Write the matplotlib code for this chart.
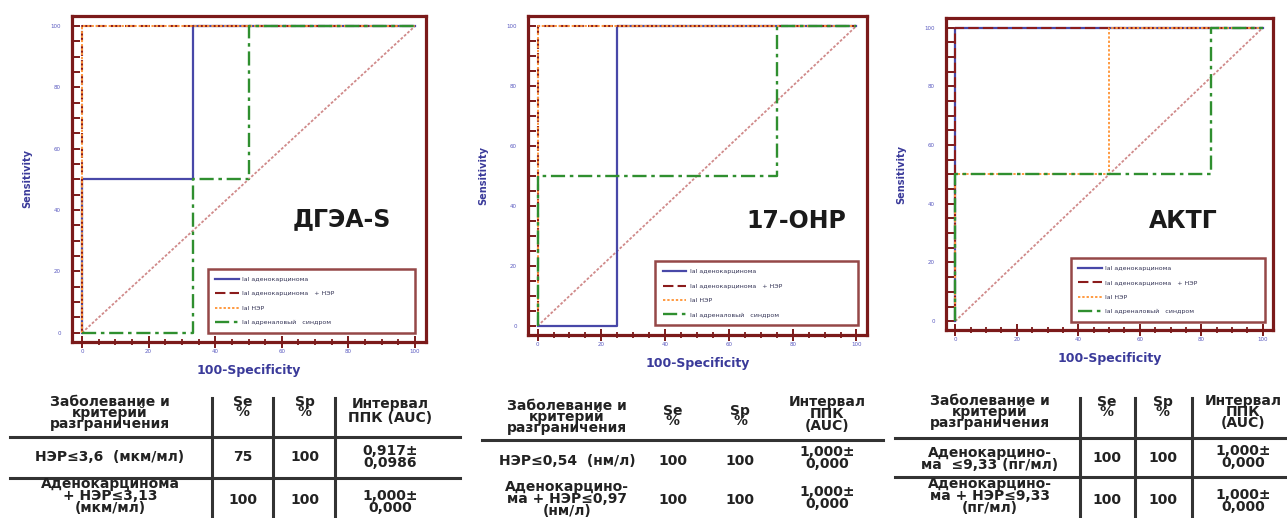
import matplotlib
matplotlib.use('Agg')
import matplotlib.pyplot as plt
from matplotlib.lines import Line2D
from matplotlib.ticker import MultipleLocator

# ---------------- data ----------------
axis_ticks = [0, 20, 40, 60, 80, 100]
diag_x = [0, 100]
diag_y = [0, 100]
legend_labels = ['lal аденокарцинома', 'lal аденокарцинома   + НЭР',
                 'lal НЭР', 'lal адреналовый   синдром']
panel_titles = ['ДГЭА-S', '17-OHP', 'АКТГ']
x_label = '100-Specificity'
y_label = 'Sensitivity'

# ДГЭА-S
dhea_blue_x = [0, 0, 33.3, 33.3, 100]
dhea_blue_y = [0, 50, 50, 100, 100]
dhea_red_x = [0, 0, 100]
dhea_red_y = [0, 100, 100]
dhea_orange_x = [0, 0, 100]
dhea_orange_y = [0, 100, 100]
dhea_green_x = [0, 33.3, 33.3, 50, 50, 100]
dhea_green_y = [0, 0, 50, 50, 100, 100]

# 17-OHP
ohp_blue_x = [0, 25, 25, 100]
ohp_blue_y = [0, 0, 100, 100]
ohp_red_x = [0, 0, 100]
ohp_red_y = [0, 100, 100]
ohp_orange_x = [0, 0, 100]
ohp_orange_y = [0, 100, 100]
ohp_green_x = [0, 0, 75, 75, 100]
ohp_green_y = [0, 50, 50, 100, 100]

# АКТГ
acth_blue_x = [0, 0, 100]
acth_blue_y = [0, 100, 100]
acth_red_x = [0, 0, 100]
acth_red_y = [0, 100, 100]
acth_orange_x = [0, 0, 50, 50, 100]
acth_orange_y = [0, 50, 50, 100, 100]
acth_green_x = [0, 0, 83.3, 83.3, 100]
acth_green_y = [0, 50, 50, 100, 100]

# tables
t1_header = ['Заболевание и\nкритерий\nразграничения', 'Se\n%', 'Sp\n%', 'Интервал\nППК (AUC)']
t1_row1 = ['НЭР≤3,6  (мкм/мл)', '75', '100', '0,917±\n0,0986']
t1_row2 = ['Аденокарцинома\n+ НЭР≤3,13\n(мкм/мл)', '100', '100', '1,000±\n0,000']

t2_header = ['Заболевание и\nкритерий\nразграничения', 'Se\n%', 'Sp\n%', 'Интервал\nППК\n(AUC)']
t2_row1 = ['НЭР≤0,54  (нм/л)', '100', '100', '1,000±\n0,000']
t2_row2 = ['Аденокарцино-\nма + НЭР≤0,97\n(нм/л)', '100', '100', '1,000±\n0,000']

t3_header = ['Заболевание и\nкритерий\nразграничения', 'Se\n%', 'Sp\n%', 'Интервал\nППК\n(AUC)']
t3_row1 = ['Аденокарцино-\nма  ≤9,33 (пг/мл)', '100', '100', '1,000±\n0,000']
t3_row2 = ['Аденокарцино-\nма + НЭР≤9,33\n(пг/мл)', '100', '100', '1,000±\n0,000']

# ---------------- layout / style ----------------
W, H = 1287, 518
fig = plt.figure(figsize=(W / 100, H / 100), dpi=100)
fig.patch.set_facecolor('white')

FRAME = '#7b1a1a'
BLUE = '#4848a8'
RED = '#8b1c1c'
ORANGE = '#ff9a40'
GREEN = '#2f8f2f'
DIAG = '#d08a8a'
LABEL = '#3a3a9a'

styles = {
    'blue': dict(color=BLUE, ls='-', lw=1.6),
    'red': dict(color=RED, ls=(0, (5, 2)), lw=1.5),
    'orange': dict(color=ORANGE, ls=(0, (1.2, 1)), lw=1.4),
    'green': dict(color=GREEN, ls=(0, (6, 2, 1.5, 2)), lw=1.7),
}

panels = [
    dict(rect=(72, 16, 426, 342), title_xy=(78, 37), leg=(0.384, 0.028, 0.585),
         curves=[('blue', dhea_blue_x, dhea_blue_y), ('red', dhea_red_x, dhea_red_y),
                 ('orange', dhea_orange_x, dhea_orange_y), ('green', dhea_green_x, dhea_green_y)]),
    dict(rect=(528, 16, 867, 335), title_xy=(81, 35), leg=(0.375, 0.031, 0.598),
         curves=[('blue', ohp_blue_x, ohp_blue_y), ('red', ohp_red_x, ohp_red_y),
                 ('orange', ohp_orange_x, ohp_orange_y), ('green', ohp_green_x, ohp_green_y)]),
    dict(rect=(946, 18, 1273, 330), title_xy=(74, 34), leg=(0.382, 0.026, 0.594),
         curves=[('blue', acth_blue_x, acth_blue_y), ('red', acth_red_x, acth_red_y),
                 ('orange', acth_orange_x, acth_orange_y), ('green', acth_green_x, acth_green_y)]),
]

for i, p in enumerate(panels):
    l, t, r, b = p['rect']
    ax = fig.add_axes([l / W, 1 - b / H, (r - l) / W, (b - t) / H])
    ax.set_xlim(-3, 103.3)
    ax.set_ylim(-3, 103.3)
    ax.plot(diag_x, diag_y, color=DIAG, ls=(0, (1.5, 1)), lw=1.3, zorder=1)
    for key, xs, ys in p['curves']:
        ax.plot(xs, ys, zorder=2, **styles[key])
    for s in ax.spines.values():
        s.set_color(FRAME)
        s.set_linewidth(2.3)
    ax.set_xticks(axis_ticks)
    ax.set_yticks(axis_ticks)
    ax.xaxis.set_minor_locator(MultipleLocator(5))
    ax.yaxis.set_minor_locator(MultipleLocator(5))
    ax.tick_params(axis='y', which='both', direction='in', length=5.5, width=1.4,
                   color=FRAME, labelsize=4, labelcolor='#5a5ac0', pad=8)
    ax.tick_params(axis='x', which='major', direction='inout', length=8, width=1.4,
                   color=FRAME, labelsize=4, labelcolor='#5a5ac0', pad=1)
    ax.tick_params(axis='x', which='minor', direction='inout', length=5, width=1.3,
                   color=FRAME)
    ax.set_xlabel(x_label, fontsize=9, fontweight='bold', color=LABEL, labelpad=7)
    ax.set_ylabel(y_label, fontsize=7, fontweight='bold', color=LABEL, labelpad=13)
    ax.text(p['title_xy'][0], p['title_xy'][1], panel_titles[i], fontsize=17,
            fontweight='bold', color='#1a1a1a', ha='center', va='center')
    handles = [Line2D([], [], **styles[k]) for k in ['blue', 'red', 'orange', 'green']]
    lx, ly, lw_ = p['leg']
    leg = ax.legend(handles, legend_labels, loc='lower left',
                    bbox_to_anchor=(lx, ly, lw_, 0.2), mode='expand', fontsize=4.5,
                    frameon=True, fancybox=False, handlelength=3.8, labelspacing=1.45,
                    borderpad=1.2, handletextpad=0.5, borderaxespad=0)
    leg.get_frame().set_edgecolor(FRAME)
    leg.get_frame().set_linewidth(1.8)
    for txt in leg.get_texts():
        txt.set_color('#333355')

# ---------------- tables ----------------
TXT = '#222222'
FS = 10


def fx(x):
    return x / W


def fy(y):
    return 1 - y / H


def hline(x0, x1, y):
    fig.add_artist(Line2D([fx(x0), fx(x1)], [fy(y), fy(y)], color='#333333', lw=2.2))


def vline(x, y0, y1):
    fig.add_artist(Line2D([fx(x), fx(x)], [fy(y0), fy(y1)], color='#333333', lw=2.2))


def put(cells, xs, ys, spacings):
    for cell, x, y, sp in zip(cells, xs, ys, spacings):
        fig.text(fx(x), fy(y), cell, ha='center', va='center', fontsize=FS,
                 fontweight='bold', color=TXT, linespacing=sp, multialignment='center')


# table 1
hline(10, 460, 437)
hline(10, 460, 478)
for vx in (212, 273, 335):
    vline(vx, 398, 518)
c1 = [110, 243, 305, 390]
put(t1_header, c1, [413, 407, 407, 411], [0.74, 0.7, 0.7, 1.05])
put(t1_row1, c1, [457, 457, 457, 457], [1, 1, 1, 0.74])
put(t1_row2, c1, [496, 500, 500, 502], [0.8, 1, 1, 0.74])

# table 2
hline(482, 883, 440)
c2 = [567, 673, 740, 827]
put(t2_header, c2, [417, 416, 416, 414], [0.74, 0.7, 0.7, 0.8])
put(t2_row1, c2, [461, 461, 461, 458], [1, 1, 1, 0.8])
put(t2_row2, c2, [499, 500, 500, 498], [0.78, 1, 1, 0.8])

# table 3
hline(895, 1287, 438)
hline(895, 1287, 477)
for vx in (1080, 1135, 1192):
    vline(vx, 398, 518)
c3 = [990, 1107, 1163, 1243]
put(t3_header, c3, [412, 407, 407, 412], [0.74, 0.7, 0.7, 0.74])
put(t3_row1, c3, [459, 458, 458, 457], [0.8, 1, 1, 0.74])
put(t3_row2, c3, [496, 500, 500, 501], [0.85, 1, 1, 0.8])

fig.savefig('out.png', dpi=100, facecolor='white')
